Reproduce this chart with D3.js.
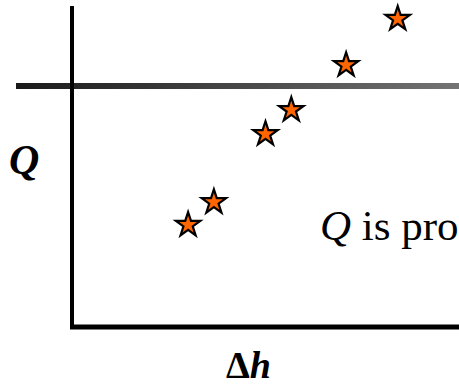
<!DOCTYPE html>
<html>
<head>
<meta charset="utf-8">
<script src="https://cdn.jsdelivr.net/npm/d3@7"></script>
</head>
<body style="margin:0; overflow:hidden">
<svg width="459" height="392"></svg>
<script>
// measured points (delta h, Q)
const dh = [3.6, 4.4, 6.0, 6.8, 8.5, 10.1];
const qv = [3.18, 3.89, 6.01, 6.76, 8.16, 9.60];
const refQ = 7.51;   // horizontal reference line

const svg = d3.select('svg');
const width = +svg.attr('width');
const height = +svg.attr('height');

const xscale = d3.scaleLinear().domain([0, 12]).range([72, 459]);
const yscale = d3.scaleLinear().domain([0, 10]).range([327, 6]);

const defs = svg.append('defs');

// gradient for the reference line
const grad = defs.append('linearGradient')
    .attr('id', 'refgrad')
    .attr('gradientUnits', 'userSpaceOnUse')
    .attr('x1', 16).attr('x2', width).attr('y1', 0).attr('y2', 0);
grad.append('stop').attr('offset', '0%').attr('stop-color', '#1a1a1a');
grad.append('stop').attr('offset', '100%').attr('stop-color', '#747474');

defs.append('clipPath').attr('id', 'pageclip')
  .append('rect').attr('x', 0).attr('y', 0).attr('width', width).attr('height', height);

svg.append('line')
    .attr('x1', 16).attr('x2', width)
    .attr('y1', yscale(refQ)).attr('y2', yscale(refQ))
    .attr('stroke', 'url(#refgrad)')
    .attr('stroke-width', 6);

// axes
svg.append('line')
    .attr('x1', xscale(0)).attr('x2', xscale(0))
    .attr('y1', yscale(10)).attr('y2', yscale(0) + 2)
    .attr('stroke', '#000').attr('stroke-width', 4);
svg.append('line')
    .attr('x1', xscale(0) - 2).attr('x2', width)
    .attr('y1', yscale(0)).attr('y2', yscale(0))
    .attr('stroke', '#000').attr('stroke-width', 5);

// stars
const star = d3.symbol().type(d3.symbolStar).size(185);
svg.selectAll('path.pt')
    .data(d3.zip(dh, qv))
    .enter()
    .append('path')
    .attr('class', 'pt')
    .attr('d', star)
    .attr('transform', d => 'translate(' + xscale(d[0]) + ',' + yscale(d[1]) + ')')
    .attr('fill', '#ff6600')
    .attr('stroke', '#000')
    .attr('stroke-width', 2.2);

// labels
const labels = [
  {x: 9, y: 174, size: 42, parts: [['Q', 'bold', 'italic']]},
  {x: 226, y: 378, size: 38, parts: [['\u0394', 'bold', 'normal'], ['h', 'bold', 'italic']]},
  {x: 320, y: 240, size: 43, parts: [['Q', 'normal', 'italic'], [' is pro', 'normal', 'normal']]}
];

const tg = svg.append('g').attr('clip-path', 'url(#pageclip)');
tg.selectAll('text')
  .data(labels)
  .enter()
  .append('text')
  .attr('x', d => d.x).attr('y', d => d.y)
  .attr('font-size', d => d.size)
  .style('font-family', 'serif')
  .each(function (d) {
    d3.select(this).selectAll('tspan')
      .data(d.parts)
      .enter()
      .append('tspan')
      .attr('font-weight', p => p[1])
      .attr('font-style', p => p[2])
      .text(p => p[0]);
  });
</script>
</body>
</html>
